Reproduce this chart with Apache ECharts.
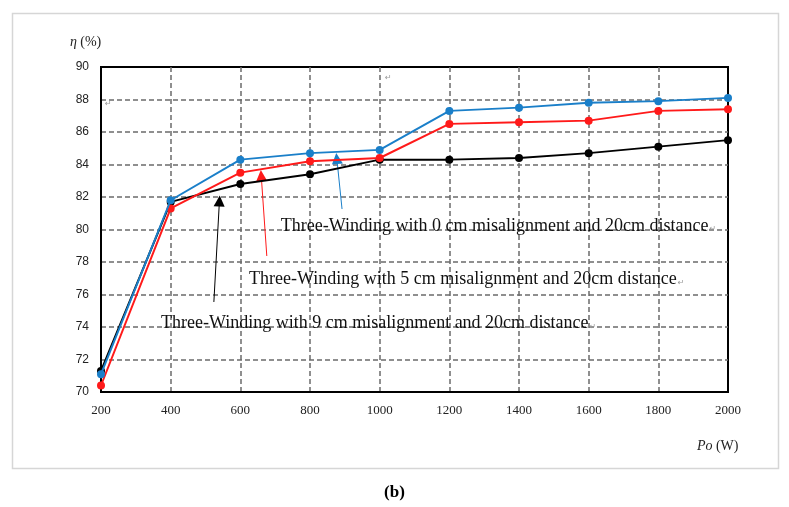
<!DOCTYPE html>
<html>
<head>
<meta charset="utf-8">
<script src="https://cdn.jsdelivr.net/npm/echarts@6/dist/echarts.min.js"></script>
<style>
  html, body { margin: 0; padding: 0; background: #fff; }
  #chart { width: 789px; height: 507px; }
</style>
</head>
<body>
<div id="chart"></div>
<script>
// Output power (W)
const powerW = [200, 400, 600, 800, 1000, 1200, 1400, 1600, 1800, 2000];
// Efficiency (%) for each misalignment case
const eff0cm = [71.1, 81.8, 84.3, 84.7, 84.9, 87.3, 87.5, 87.8, 87.9, 88.1];
const eff5cm = [70.4, 81.3, 83.5, 84.2, 84.4, 86.5, 86.6, 86.7, 87.3, 87.4];
const eff9cm = [71.3, 81.7, 82.8, 83.4, 84.3, 84.3, 84.4, 84.7, 85.1, 85.5];

const seriesNames = [
  'Three-Winding with 0 cm misalignment and 20cm distance',
  'Three-Winding with 5 cm misalignment and 20cm distance',
  'Three-Winding with 9 cm misalignment and 20cm distance'
];
const seriesColors = ['#1a7fc9', '#ff1a1a', '#000000'];

// Callout arrows: [tail, head] in data units (W, %)
const arrows = [
  [[892, 81.26], [877, 84.37]],
  [[676, 78.37], [660, 83.32]],
  [[524, 75.54], [540, 81.75]]
];
// Callout text anchors (left edge, vertical middle) in data units
const labelAnchors = [[716, 80.1], [625, 76.8], [372, 74.1]];

const chart = echarts.init(document.getElementById('chart'), null, { renderer: 'canvas' });

const dashed = { color: '#6b6b6b', width: 1.5, type: [5, 3] };

function makeSeries(i, values) {
  return {
    name: seriesNames[i],
    type: 'line',
    data: powerW.map((x, k) => [x, values[k]]),
    symbol: 'circle',
    symbolSize: 8,
    lineStyle: { color: seriesColors[i], width: 2 },
    itemStyle: { color: seriesColors[i] },
    z: 10 - i,
    markLine: {
      silent: true,
      symbol: ['none', 'triangle'],
      symbolSize: 11,
      lineStyle: { color: seriesColors[i], width: 1, type: 'solid' },
      itemStyle: { color: seriesColors[i] },
      label: { show: false },
      data: [[{ coord: arrows[i][0] }, { coord: arrows[i][1] }]]
    }
  };
}

const option = {
  animation: false,
  backgroundColor: '#ffffff',
  grid: {
    left: 101, right: 61, top: 67, bottom: 115,
    show: true, borderColor: '#000', borderWidth: 2, backgroundColor: 'transparent'
  },
  xAxis: {
    type: 'value', min: 200, max: 2000, interval: 200,
    axisLine: { show: true, lineStyle: { color: '#000', width: 2 } },
    axisTick: { show: false },
    splitLine: { show: true, showMinLine: false, showMaxLine: false, lineStyle: dashed },
    axisLabel: { color: '#222', fontFamily: 'Liberation Serif', fontSize: 13, margin: 12,
                 formatter: v => String(v) }
  },
  yAxis: {
    type: 'value', min: 70, max: 90, interval: 2,
    axisLine: { show: true, lineStyle: { color: '#000', width: 2 } },
    axisTick: { show: false },
    splitLine: { show: true, showMinLine: false, showMaxLine: false, lineStyle: dashed },
    axisLabel: { color: '#222', fontFamily: 'Liberation Sans', fontSize: 12, margin: 12 }
  },
  series: [makeSeries(0, eff0cm), makeSeries(1, eff5cm), makeSeries(2, eff9cm)]
};
chart.setOption(option);

// Page frame, axis titles, callout texts and caption
const callouts = labelAnchors.map((p, i) => {
  const px = chart.convertToPixel({ gridIndex: 0 }, p);
  return {
    type: 'text', left: px[0], top: px[1] - 11, z: 20,
    style: {
      text: '{t|' + seriesNames[i] + '}{m|↵}',
      rich: {
        t: { fontFamily: 'Liberation Serif', fontSize: 18, fill: '#111' },
        m: { fontFamily: 'DejaVu Sans', fontSize: 8, fill: '#999', padding: [7, 0, 0, 1] }
      }
    }
  };
});

chart.setOption({
  graphic: [
    { type: 'rect', shape: { x: 12.5, y: 13.5, width: 766, height: 455 },
      style: { fill: 'none', stroke: '#d6d6d6', lineWidth: 1.5 }, z: 0 },
    { type: 'text', left: 70, top: 35, style: {
        text: '{i|η} {n|(%)}',
        rich: {
          i: { fontFamily: 'Liberation Serif', fontStyle: 'italic', fontSize: 14, fill: '#222' },
          n: { fontFamily: 'Liberation Serif', fontSize: 14, fill: '#222' }
        } } },
    { type: 'text', left: 697, top: 439, style: {
        text: '{i|Po} {n|(W)}',
        rich: {
          i: { fontFamily: 'Liberation Serif', fontStyle: 'italic', fontSize: 14, fill: '#222' },
          n: { fontFamily: 'Liberation Serif', fontSize: 14, fill: '#222' }
        } } },
    { type: 'text', left: 105, top: 100, style: { text: '↵', fontFamily: 'DejaVu Sans', fontSize: 8, fill: '#999' } },
    { type: 'text', left: 385, top: 74, style: { text: '↵', fontFamily: 'DejaVu Sans', fontSize: 8, fill: '#999' } },
    ...callouts,
    { type: 'text', left: 'center', top: 484, style: {
        text: '(b)', fontFamily: 'Liberation Serif', fontWeight: 'bold', fontSize: 17, fill: '#000' } }
  ]
});
</script>
</body>
</html>
